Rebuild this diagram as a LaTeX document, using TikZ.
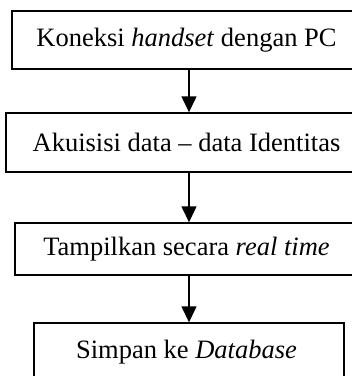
\documentclass[tikz,border=0pt]{standalone}
\usepackage{fontspec}
\setmainfont{Liberation Serif}
\usetikzlibrary{arrows.meta}
\begin{document}
\begin{tikzpicture}[x=1pt,y=-1pt,
 box/.style={draw,line width=1.4pt,inner sep=0pt,font=\fontsize{26.5}{32}\selectfont,execute at end node={\kern5pt}},
 arr/.style={line width=1.4pt,-{Triangle[length=16pt,width=15pt]}}]
\useasboundingbox (0,0) rectangle (352,376);
\clip (0,0) rectangle (352,376);
\node[box,minimum width=354pt,minimum height=58pt] (b1) at (189,40) {Koneksi \textit{handset} dengan PC};
\node[box,minimum width=366pt,minimum height=59pt] (b2) at (189,142.5) {Akuisisi data -- data Identitas};
\node[box,minimum width=348pt,minimum height=52pt] (b3) at (189,249) {Tampilkan secara \textit{real time}};
\node[box,minimum width=310pt,minimum height=58pt] (b4) at (189,352) {Simpan ke \textit{Database}};
\draw[arr] (b1) -- (b2);
\draw[arr] (b2) -- (b3);
\draw[arr] (b3) -- (b4);
\end{tikzpicture}
\end{document}
